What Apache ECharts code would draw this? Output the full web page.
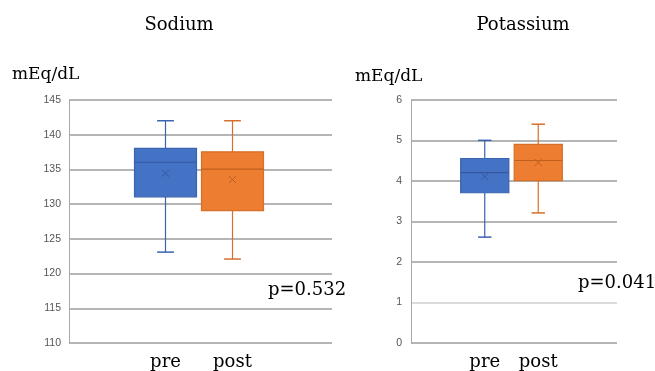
<!DOCTYPE html>
<html>
<head>
<meta charset="utf-8">
<script src="https://cdn.jsdelivr.net/npm/echarts@6/dist/echarts.min.js"></script>
<style>
  html, body { margin: 0; padding: 0; background: #ffffff; }
  #chart { width: 655px; height: 371px; }
</style>
</head>
<body>
<div id="chart"></div>
<script>
// groups on the x axis
const GROUPS = ["pre", "post"];

// [min, Q1, median, Q3, max]
const sodiumPre = [123, 131, 136, 138, 142];
const sodiumPost = [122, 129, 135, 137.5, 142];
const sodiumMean = [134.4, 133.5];

const potassiumPre = [2.6, 3.7, 4.2, 4.55, 5.0];
const potassiumPost = [3.2, 4.0, 4.5, 4.9, 5.4];
const potassiumMean = [4.1, 4.45];

const sodiumTicks = { min: 110, max: 145, interval: 5 };
const potassiumTicks = { min: 0, max: 6, interval: 1 };

const pValues = ["p=0.532", "p=0.041"];

const FILL = ["#4472c4", "#ed7d31"];
const EDGE = ["#3a63b0", "#d56f2a"];
const MEAN_COLOR = ["#3558a0", "#c0601f"];
const GRID_LINE = "#9c9c9c";
const SERIF = "'DejaVu Serif', serif";

function boxRows(pre, post, means) {
  return [pre, post].map((stats, i) => [i, ...stats, means[i]]);
}

function makeRenderItem(boxRatio, capRatio) {
  return function (params, api) {
    const cat = api.value(0);
    const pt = v => api.coord([cat, v]);
    const [cx, yMin] = pt(api.value(1));
    const yQ1 = pt(api.value(2))[1];
    const yMed = pt(api.value(3))[1];
    const yQ3 = pt(api.value(4))[1];
    const yMax = pt(api.value(5))[1];
    const yMean = pt(api.value(6))[1];
    const band = api.size([1, 0])[0];
    const half = (band * boxRatio) / 2;
    const cap = (band * capRatio) / 2;
    const i = params.dataIndex;
    const edge = { stroke: EDGE[i], lineWidth: 1.2 };
    const line = (x1, y1, x2, y2, style) => ({
      type: "line",
      shape: { x1, y1, x2, y2 },
      style
    });
    const m = 3.5;
    return {
      type: "group",
      children: [
        line(cx, yMax, cx, yQ3, edge),
        line(cx, yQ1, cx, yMin, edge),
        line(cx - cap, yMax, cx + cap, yMax, { stroke: EDGE[i], lineWidth: 1.5 }),
        line(cx - cap, yMin, cx + cap, yMin, { stroke: EDGE[i], lineWidth: 1.5 }),
        {
          type: "rect",
          shape: { x: cx - half, y: yQ3, width: half * 2, height: yQ1 - yQ3 },
          style: { fill: FILL[i], stroke: EDGE[i], lineWidth: 1.2 }
        },
        line(cx - half, yMed, cx + half, yMed, { stroke: MEAN_COLOR[i], lineWidth: 1.2 }),
        line(cx - m, yMean - m, cx + m, yMean + m, { stroke: MEAN_COLOR[i], lineWidth: 1 }),
        line(cx - m, yMean + m, cx + m, yMean - m, { stroke: MEAN_COLOR[i], lineWidth: 1 })
      ]
    };
  };
}

function valueAxis(gridIndex, ticks, visible, margin, lineColors) {
  return {
    type: "value",
    gridIndex,
    min: ticks.min,
    max: ticks.max,
    interval: ticks.interval,
    show: visible,
    axisLine: { show: true, lineStyle: { color: "#a8a8a8", width: 1 } },
    axisTick: { show: false },
    axisLabel: {
      color: "#555555",
      fontSize: 10.5,
      fontFamily: "'Liberation Sans', Arial, sans-serif",
      margin
    },
    splitLine: {
      show: visible,
      lineStyle: { color: lineColors, width: 1.6 }
    }
  };
}

function groupAxis(gridIndex) {
  return {
    type: "category",
    gridIndex,
    data: GROUPS,
    axisLine: { show: false },
    axisTick: { show: false },
    axisLabel: { color: "#000", fontSize: 18, fontFamily: SERIF, margin: 11 }
  };
}

const sodiumLines = [GRID_LINE];
const potassiumLines = [GRID_LINE, "#cfcfcf", GRID_LINE, GRID_LINE, GRID_LINE, GRID_LINE, GRID_LINE];

const option = {
  animation: false,
  backgroundColor: "#ffffff",
  grid: [
    { left: 69, top: 100, width: 263, height: 243 },
    { left: 132, top: 100, width: 134, height: 243 },
    { left: 411, top: 100, width: 206, height: 243 },
    { left: 458, top: 100, width: 107, height: 243 }
  ],
  xAxis: [
    { type: "value", gridIndex: 0, show: false },
    groupAxis(1),
    { type: "value", gridIndex: 2, show: false },
    groupAxis(3)
  ],
  yAxis: [
    valueAxis(0, sodiumTicks, true, 8, sodiumLines),
    valueAxis(1, sodiumTicks, false, 8, sodiumLines),
    valueAxis(2, potassiumTicks, true, 9, potassiumLines),
    valueAxis(3, potassiumTicks, false, 9, potassiumLines)
  ],
  series: [
    {
      type: "custom",
      xAxisIndex: 1,
      yAxisIndex: 1,
      renderItem: makeRenderItem(0.925, 0.25),
      data: boxRows(sodiumPre, sodiumPost, sodiumMean),
      z: 5
    },
    {
      type: "custom",
      xAxisIndex: 3,
      yAxisIndex: 3,
      renderItem: makeRenderItem(0.9, 0.25),
      data: boxRows(potassiumPre, potassiumPost, potassiumMean),
      z: 5
    }
  ],
  graphic: [
    { type: "text", x: 179, y: 25, style: { text: "Sodium", font: "18px " + SERIF, fill: "#000", align: "center", verticalAlign: "middle" } },
    { type: "text", x: 523, y: 25, style: { text: "Potassium", font: "18px " + SERIF, fill: "#000", align: "center", verticalAlign: "middle" } },
    { type: "text", x: 12, y: 75, style: { text: "mEq/dL", font: "17px " + SERIF, fill: "#000", align: "left", verticalAlign: "middle" } },
    { type: "text", x: 355, y: 77, style: { text: "mEq/dL", font: "17px " + SERIF, fill: "#000", align: "left", verticalAlign: "middle" } },
    { type: "text", x: 268, y: 290, z: 20, style: { text: pValues[0], font: "18px " + SERIF, fill: "#000", align: "left", verticalAlign: "middle" } },
    { type: "text", x: 578, y: 283, z: 20, style: { text: pValues[1], font: "18px " + SERIF, fill: "#000", align: "left", verticalAlign: "middle" } }
  ]
};

const chart = echarts.init(document.getElementById("chart"));
chart.setOption(option);
</script>
</body>
</html>
